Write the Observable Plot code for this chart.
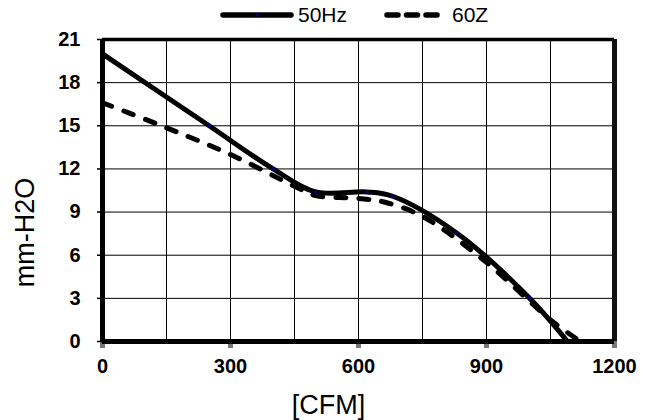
<!DOCTYPE html>
<html><head><meta charset="utf-8">
<script src="https://cdn.jsdelivr.net/npm/d3@7"></script>
<script src="https://cdn.jsdelivr.net/npm/@observablehq/plot@0.6"></script>
<style>
body{margin:0;background:#fff;font-family:"Liberation Sans",Arial,sans-serif;}
#wrap{position:relative;width:655px;height:420px;}
#legend{position:absolute;left:0;top:0;height:30px;width:655px;z-index:2;}
.li{position:absolute;top:0;height:30px;display:flex;align-items:center;font-size:21px;color:#000;}
</style></head><body>
<div id="wrap">
<div id="legend">
  <div class="li" style="left:220px"><svg width="74" height="12"><line x1="3" y1="6" x2="71" y2="6" stroke="#000" stroke-width="5.5" stroke-linecap="round"/><circle cx="37" cy="6" r="1.6" fill="#000080"/></svg><span style="margin-left:4px">50Hz</span></div>
  <div class="li" style="left:384px"><svg width="62" height="12"><line x1="3" y1="6" x2="60" y2="6" stroke="#000" stroke-width="5.5" stroke-linecap="round" stroke-dasharray="11,8.5"/></svg><span style="margin-left:6px">60Z</span></div>
</div>
<div id="chart"></div>
</div>
<script>
const cfm50 = [0, 250, 400, 500, 620, 680, 830, 1000, 1090];
const p50   = [20, 15, 12, 10.4, 10.4, 10.1, 7.55, 3.05, 0];
const cfm60 = [0, 130, 300, 450, 500, 600, 660, 750, 900, 1050, 1120];
const p60   = [16.6, 15.1, 13.0, 10.8, 10.15, 9.95, 9.7, 8.7, 5.5, 1.5, 0];
const xTicks = [0, 300, 600, 900, 1200];
const xGrid = [150, 300, 450, 600, 750, 900, 1050];
const yTicks = [0, 3, 6, 9, 12, 15, 18, 21];
const yGrid = [3, 6, 9, 12, 15, 18];
const xDomain = [0, 1200];
const yDomain = [0, 21];

const d50 = cfm50.map((x, i) => ({x, y: p50[i]}));
const d60 = cfm60.map((x, i) => ({x, y: p60[i]}));

const chart = Plot.plot({
  width: 655, height: 420,
  marginLeft: 102, marginRight: 41, marginTop: 39, marginBottom: 79,
  style: {fontFamily: '"Liberation Sans", Arial, sans-serif', background: "#fff", fontSize: "20px", fontWeight: "bold", overflow: "visible"},
  x: {domain: xDomain},
  y: {domain: yDomain},
  marks: [
    Plot.gridX(xGrid, {stroke: "#000", strokeOpacity: 1, strokeWidth: 1}),
    Plot.gridY(yGrid, {stroke: "#000", strokeOpacity: 1, strokeWidth: 1}),
    Plot.axisX(xTicks, {tickSize: 7, stroke: "#777", strokeWidth: 5, tickPadding: 10, tickFormat: d => String(d), fill: "#000", label: "[CFM]", labelAnchor: "center", labelArrow: "none", labelOffset: 72}),
    Plot.axisY(yTicks, {tickSize: 5, stroke: "#000", strokeWidth: 1.5, tickPadding: 17, tickFormat: d => String(d), fill: "#000", label: "mm-H2O", labelAnchor: "center", labelArrow: "none", labelOffset: 88}),
    Plot.line(d60, {x: "x", y: "y", curve: "catmull-rom", stroke: "#000", strokeWidth: 5, strokeDasharray: "10,13", strokeLinecap: "round"}),
    Plot.line(d50, {x: "x", y: "y", curve: "catmull-rom", stroke: "#000", strokeWidth: 5, strokeLinecap: "butt"}),
    Plot.dot(d50, {x: "x", y: "y", r: 1.8, fill: "#000080", stroke: null}),
    Plot.ruleY([yDomain[1]], {stroke: "#000", strokeWidth: 3.5}),
    Plot.ruleX([xDomain[1]], {stroke: "#111", strokeWidth: 5}),
    Plot.ruleX([xDomain[0]], {stroke: "#000", strokeWidth: 5}),
    Plot.ruleY([yDomain[0]], {stroke: "#000", strokeWidth: 5})
  ]
});
chart.querySelectorAll('[aria-label="x-axis label"], [aria-label="y-axis label"]').forEach(g => {
  g.setAttribute("font-size", "27"); g.style.fontSize = "27px"; g.style.fontWeight = "normal";
  g.querySelectorAll("text").forEach(t => { t.style.fontSize = "27px"; t.style.fontWeight = "normal"; });
});
chart.querySelectorAll('[aria-label="x-axis label"] text').forEach(t => t.setAttribute("dx", "-30"));
chart.querySelectorAll('[aria-label="y-axis label"] text').forEach(t => t.setAttribute("dx", "-42"));
document.getElementById("chart").appendChild(chart);
</script>
</body></html>
